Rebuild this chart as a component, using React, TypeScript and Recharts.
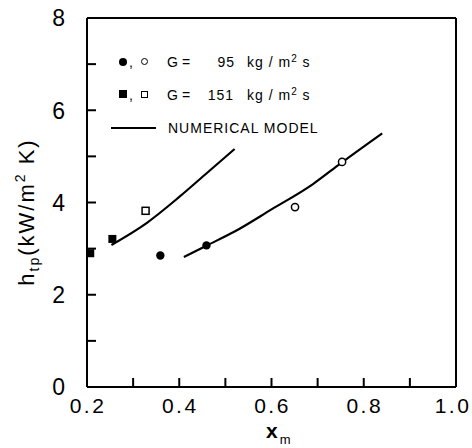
import { ComposedChart, Line, Scatter, XAxis, YAxis } from "recharts";

// tick positions and labelled ticks
const xTicks = [0.2, 0.3, 0.4, 0.5, 0.6, 0.7, 0.8, 0.9, 1.0];
const xLabeled = ["0.2", "0.4", "0.6", "0.8", "1.0"];
const yTicks = [0, 1, 2, 3, 4, 5, 6, 7, 8];
const yLabeled = [0, 2, 4, 6, 8];

// measured points, G = 95 kg/m2s
const g95Filled = [
  { x: 0.359, y: 2.85 },
  { x: 0.459, y: 3.07 },
];
const g95Open = [
  { x: 0.651, y: 3.9 },
  { x: 0.753, y: 4.88 },
];

// measured points, G = 151 kg/m2s
const g151Filled = [
  { x: 0.207, y: 2.9 },
  { x: 0.255, y: 3.21 },
];
const g151Open = [{ x: 0.327, y: 3.82 }];

// numerical model curves
const model151 = [
  { x: 0.253, y: 3.08 },
  { x: 0.33, y: 3.56 },
  { x: 0.4, y: 4.12 },
  { x: 0.46, y: 4.64 },
  { x: 0.52, y: 5.16 },
];
const model95 = [
  { x: 0.41, y: 2.82 },
  { x: 0.46, y: 3.07 },
  { x: 0.52, y: 3.37 },
  { x: 0.6, y: 3.85 },
  { x: 0.69, y: 4.4 },
  { x: 0.75, y: 4.85 },
  { x: 0.84, y: 5.5 },
];

// null row breaks the two model curves apart
const modelTable = [...model151, { x: 0.52, y: null }, ...model95];
const pointTable = [
  ...g95Filled.map((p) => ({ ...p, kind: "dotFilled" })),
  ...g95Open.map((p) => ({ ...p, kind: "dotOpen" })),
  ...g151Filled.map((p) => ({ ...p, kind: "sqFilled" })),
  ...g151Open.map((p) => ({ ...p, kind: "sqOpen" })),
];

const FONT = "'Liberation Sans', Arial, sans-serif";

function BottomTick(props: any) {
  const { x, y, payload } = props;
  const label = Number(payload.value).toFixed(1);
  return (
    <g>
      <line x1={x} x2={x} y1={y - 18} y2={y - 27} stroke="#000" strokeWidth={2} />
      {xLabeled.includes(label) && (
        <text x={label === "1.0" ? x - 3 : x + 1} y={y} dy="0.36em" textAnchor="middle" fontFamily={FONT} fontSize={21} letterSpacing={2.5} fill="#000">
          {label}
        </text>
      )}
    </g>
  );
}

function TopTick(props: any) {
  const { x, y } = props;
  return (
    <g>
      <line x1={x} x2={x} y1={y + 18} y2={y + 27} stroke="#000" strokeWidth={2} />
    </g>
  );
}

function LeftTick(props: any) {
  const { x, y, payload } = props;
  return (
    <g>
      <line x1={x + 22} x2={x + 31} y1={y} y2={y} stroke="#000" strokeWidth={2} />
      {yLabeled.includes(payload.value) && (
        <text x={x} y={y} dy="0.36em" textAnchor="end" fontFamily={FONT} fontSize={23} fill="#000">
          {payload.value}
        </text>
      )}
    </g>
  );
}

function RightTick(props: any) {
  const { x, y } = props;
  return (
    <g>
      <line x1={x - 22} x2={x - 31} y1={y} y2={y} stroke="#000" strokeWidth={2} />
    </g>
  );
}

function marker(p: any) {
  const kind = p.payload?.kind ?? p.kind;
  if (kind === "dotFilled") return <circle cx={p.cx} cy={p.cy} r={4.2} fill="#000" />;
  if (kind === "dotOpen") return <circle cx={p.cx} cy={p.cy} r={3.6} fill="#fff" stroke="#000" strokeWidth={1.5} />;
  if (kind === "sqFilled") return <rect x={p.cx - 4} y={p.cy - 4} width={8} height={8} fill="#000" />;
  return <rect x={p.cx - 3.5} y={p.cy - 3.5} width={7} height={7} fill="#fff" stroke="#000" strokeWidth={1.5} />;
}

// html text placed by its baseline
function T(props: any) {
  const { x, base, size = 14, spacing = 1, end = false, bold = false, children } = props;
  const style: any = {
    position: "absolute",
    top: base - size * 0.846,
    fontFamily: FONT,
    fontSize: size,
    lineHeight: `${size}px`,
    letterSpacing: spacing,
    fontWeight: bold ? "bold" : "normal",
    whiteSpace: "nowrap",
    color: "#000",
  };
  if (end) style.right = 472 - x;
  else style.left = x;
  return <div style={style}>{children}</div>;
}

function Mark(props: any) {
  const { cx, cy, size, round, filled } = props;
  return (
    <div
      style={{
        position: "absolute",
        left: cx - size / 2,
        top: cy - size / 2,
        width: size,
        height: size,
        boxSizing: "border-box",
        borderRadius: round ? "50%" : 0,
        background: filled ? "#000" : "#fff",
        border: filled ? "none" : "1.3px solid #000",
      }}
    />
  );
}

const sup = { fontSize: 10, position: "relative", top: -5 } as const;

function Overlay() {
  return (
    <div style={{ position: "absolute", left: 0, top: 0, width: 472, height: 448, pointerEvents: "none" }}>
      <Mark cx={122.7} cy={61.7} size={8.4} round filled />
      <T x={129} base={67}>,</T>
      <Mark cx={144} cy={61.7} size={7} round />
      <T x={167} base={66.5}>G</T>
      <T x={182} base={66.5}>=</T>
      <T x={235} base={66.5} end>95</T>
      <T x={247} base={66.5}>
        kg / m<span style={sup}>2</span> s
      </T>

      <Mark cx={122.7} cy={94.3} size={8} filled />
      <T x={129} base={100}>,</T>
      <Mark cx={144} cy={94.3} size={7} />
      <T x={167} base={99.5}>G</T>
      <T x={182} base={99.5}>=</T>
      <T x={234} base={99.5} end>151</T>
      <T x={247} base={99.5}>
        kg / m<span style={sup}>2</span> s
      </T>

      <div style={{ position: "absolute", left: 111, top: 126.7, width: 45, height: 2, background: "#000" }} />
      <T x={168} base={132.7}>NUMERICAL MODEL</T>

      <T x={266} base={438} size={21} spacing={0} bold>
        x<span style={{ fontSize: 13, fontWeight: "normal", position: "relative", top: 6, marginLeft: 2 }}>m</span>
      </T>

      <div
        style={{
          position: "absolute",
          left: 28,
          top: 212,
          transform: "translate(-50%, -50%) rotate(-90deg)",
          fontFamily: FONT,
          fontSize: 22,
          lineHeight: "22px",
          letterSpacing: 2,
          whiteSpace: "nowrap",
          color: "#000",
        }}
      >
        h<span style={{ fontSize: 14, position: "relative", top: 5 }}>tp</span>(kW/m
        <span style={{ fontSize: 14, position: "relative", top: -9 }}>2</span> K)
      </div>
    </div>
  );
}

export default function App() {
  const axisLine = { stroke: "#000", strokeWidth: 2 };
  return (
    <div style={{ position: "absolute", left: 0, top: 0, width: 472, height: 448 }}>
      <ComposedChart width={472} height={448} margin={{ top: 0, right: 0, bottom: 31, left: 0 }}>
        <XAxis xAxisId="b" type="number" dataKey="x" domain={[0.2, 1]} ticks={xTicks} interval={0} height={30}
          axisLine={axisLine} tickLine={false} tickSize={0} tickMargin={18} tick={BottomTick} />
        <XAxis xAxisId="t" orientation="top" type="number" dataKey="x" domain={[0.2, 1]} ticks={xTicks} interval={0} height={18}
          axisLine={axisLine} tickLine={false} tickSize={0} tickMargin={18} tick={TopTick} />
        <YAxis yAxisId="l" type="number" domain={[0, 8]} ticks={yTicks} interval={0} width={87}
          axisLine={axisLine} tickLine={false} tickSize={0} tickMargin={22} tick={LeftTick} />
        <YAxis yAxisId="r" orientation="right" type="number" domain={[0, 8]} ticks={yTicks} interval={0} width={16}
          axisLine={axisLine} tickLine={false} tickSize={0} tickMargin={22} tick={RightTick} />
        <Line xAxisId="b" yAxisId="l" data={modelTable} dataKey="y" type="monotone" stroke="#000" strokeWidth={2.2} dot={false} isAnimationActive={false} />
        <Scatter xAxisId="b" yAxisId="l" data={pointTable} dataKey="y" shape={marker} isAnimationActive={false} />
      </ComposedChart>
      <Overlay />
    </div>
  );
}
